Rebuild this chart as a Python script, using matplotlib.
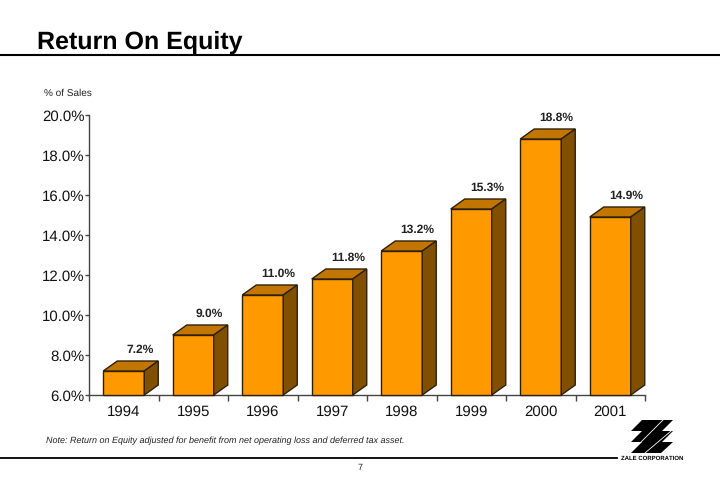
import matplotlib

matplotlib.use('Agg')
import matplotlib.pyplot as plt
from matplotlib.patches import Polygon

plt.rcParams['font.family'] = ['Liberation Sans', 'DejaVu Sans']
plt.rcParams['text.hinting'] = 'none'
plt.rcParams['text.hinting_factor'] = 1

years = ['1994', '1995', '1996', '1997', '1998', '1999', '2000', '2001']
values = [7.2, 9.0, 11.0, 11.8, 13.2, 15.3, 18.8, 14.9]
value_labels = ['7.2%', '9.0%', '11.0%', '11.8%', '13.2%', '15.3%', '18.8%', '14.9%']
y_ticks = [6, 8, 10, 12, 14, 16, 18, 20]

W, H = 720, 480
fig = plt.figure(figsize=(7.2, 4.8), dpi=100, facecolor='white')

# page layer, in pixels of the slide
page = fig.add_axes([0, 0, 1, 1])
page.set_xlim(0, W)
page.set_ylim(H, 0)
page.axis('off')

page.text(37, 42, 'Return On Equity', fontsize=18, fontweight='bold', color='black',
          ha='left', va='center')
page.plot([0, 720], [55, 55], color='black', lw=1.5)
page.plot([0, 617], [458, 458], color='black', lw=1.3)
page.text(44, 93, '% of Sales', fontsize=6.9, color='#222222', ha='left', va='center')
page.text(46, 441, 'Note: Return on Equity adjusted for benefit from net operating loss and deferred tax asset.',
          fontsize=6.5, style='italic', color='#222222', ha='left', va='center')
page.text(360, 468, '7', fontsize=6.5, color='#222222', ha='center', va='center')

# logo
logo_shapes = [
    [(631, 431), (642, 420), (673, 420), (662, 431)],
    [(642, 431), (673, 431), (662, 442), (631, 442)],
    [(642, 442), (673, 442), (661, 453), (631, 453)],
]
for shape in logo_shapes:
    page.add_patch(Polygon(shape, closed=True, facecolor='black', edgecolor='none'))
page.plot([663, 641], [420, 442], color='white', lw=0.6)
page.plot([671, 645], [431, 453], color='white', lw=0.6)
page.text(652.5, 458, 'ZALE CORPORATION', fontsize=4.3, fontweight='bold', color='black',
          ha='center', va='center')

# chart axes
ax = fig.add_axes([89 / W, 1 - 395 / H, (645 - 89) / W, (395 - 115) / H])
ax.patch.set_alpha(0)
ax.set_xlim(0, len(years))
ax.set_ylim(6, 20)
for side in ['top', 'right']:
    ax.spines[side].set_visible(False)
for side in ['left', 'bottom']:
    ax.spines[side].set_color('#444444')
    ax.spines[side].set_linewidth(1.0)

ax.set_yticks(y_ticks)
ax.set_yticklabels([f'{t:.1f}%' for t in y_ticks], fontsize=11, color='#111111')
ax.set_xticks(range(len(years) + 1))
ax.set_xticklabels([])
ax.tick_params(axis='y', length=3, width=1, color='#444444', pad=0)
ax.tick_params(axis='x', length=4, width=1, color='#444444')

for i, year in enumerate(years):
    ax.annotate(year, (i + 0.5, 6), xytext=(0, -17), textcoords='offset pixels', fontsize=11,
                color='#111111', ha='center', va='center')

bar_w = 41 / 69.5
dx = 14 / 69.5
dy = 0.5
edge = '#2e2008'
for i, v in enumerate(values):
    x0 = i + 0.5 - bar_w / 2
    x1 = x0 + bar_w
    ax.add_patch(Polygon([(x0, 6), (x1, 6), (x1, v), (x0, v)], facecolor='#ff9900', edgecolor=edge,
                         lw=1, clip_on=False, zorder=3))
    ax.add_patch(Polygon([(x0, v), (x1, v), (x1 + dx, v + dy), (x0 + dx, v + dy)], facecolor='#c27600',
                         edgecolor=edge, lw=1, clip_on=False, zorder=3))
    ax.add_patch(Polygon([(x1, 6), (x1 + dx, 6 + dy), (x1 + dx, v + dy), (x1, v)], facecolor='#805000',
                         edgecolor=edge, lw=1, clip_on=False, zorder=3))
    ax.annotate(value_labels[i], (i + 0.5, v + dy), xytext=(16, 11), textcoords='offset pixels',
                fontsize=8.7, fontweight='bold', color='#222222', ha='center', va='center')

fig.savefig('out.png', dpi=100)
